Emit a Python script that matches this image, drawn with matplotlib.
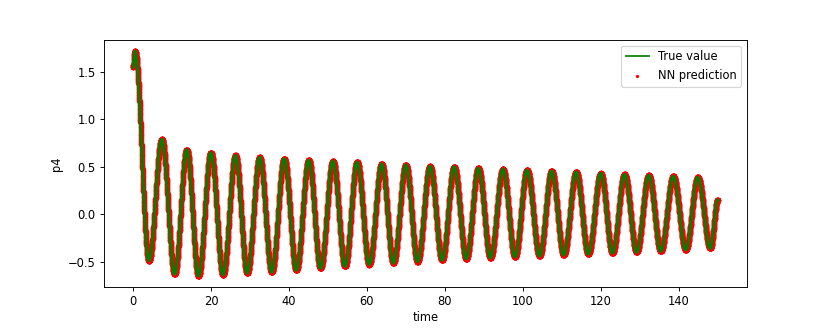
import numpy as np
import matplotlib.pyplot as plt

# turning points of the p4 trace
ext_t = [0, 0.5, 4.1, 7.4, 10.7, 13.8, 16.8, 20.0, 23.1, 26.3, 29.3, 32.5,
         35.6, 38.8, 41.9, 45.1, 48.1, 51.3, 54.4, 57.5, 60.6, 63.8, 66.8,
         70.0, 73.0, 76.2, 79.3, 82.4, 85.5, 88.6, 91.7, 94.9, 98.0, 101.1,
         104.3, 107.4, 110.5, 113.7, 116.8, 120.0, 123.0, 126.1, 129.2,
         132.3, 135.4, 138.6, 141.8, 144.9, 148.1, 150]
ext_p4 = [1.55, 1.72, -0.49, 0.79, -0.63, 0.68, -0.65, 0.65, -0.64, 0.62,
          -0.62, 0.60, -0.61, 0.585, -0.59, 0.57, -0.57, 0.56, -0.55, 0.55,
          -0.53, 0.53, -0.515, 0.52, -0.50, 0.505, -0.485, 0.50, -0.47,
          0.485, -0.46, 0.475, -0.45, 0.465, -0.44, 0.455, -0.43, 0.445,
          -0.42, 0.43, -0.41, 0.42, -0.40, 0.41, -0.39, 0.40, -0.375, 0.39,
          -0.36, 0.15]


def trace(tk, yk, step=0.01):
    # half-cosine arcs between consecutive turning points
    ts, ys = [], []
    for k in range(len(tk) - 1):
        n = max(int((tk[k+1] - tk[k]) / step), 2)
        s = np.linspace(0, 1, n, endpoint=False)
        ts.append(tk[k] + s*(tk[k+1] - tk[k]))
        ys.append(yk[k] + (yk[k+1] - yk[k])*(1 - np.cos(np.pi*s))/2)
    ts.append([tk[-1]])
    ys.append([yk[-1]])
    return np.concatenate(ts), np.concatenate(ys)


t, p4 = trace(ext_t, ext_p4)

fig = plt.figure(figsize=(10, 4), dpi=83)
plt.subplots_adjust(bottom=0.135, top=0.88)
plt.plot(t, p4, color='g', lw=2.6, label='True value')
sc = plt.scatter(t, p4, color='r', s=22, linewidths=0, label='NN prediction')
sc.set_snap(False)
plt.xlabel('time', labelpad=2)
plt.ylabel('p4')
leg = plt.legend(loc='upper right')
leg.get_lines()[0].set_linewidth(1.5)
leg.legend_handles[1].set_sizes([8])
plt.savefig('out.png', dpi=83)
